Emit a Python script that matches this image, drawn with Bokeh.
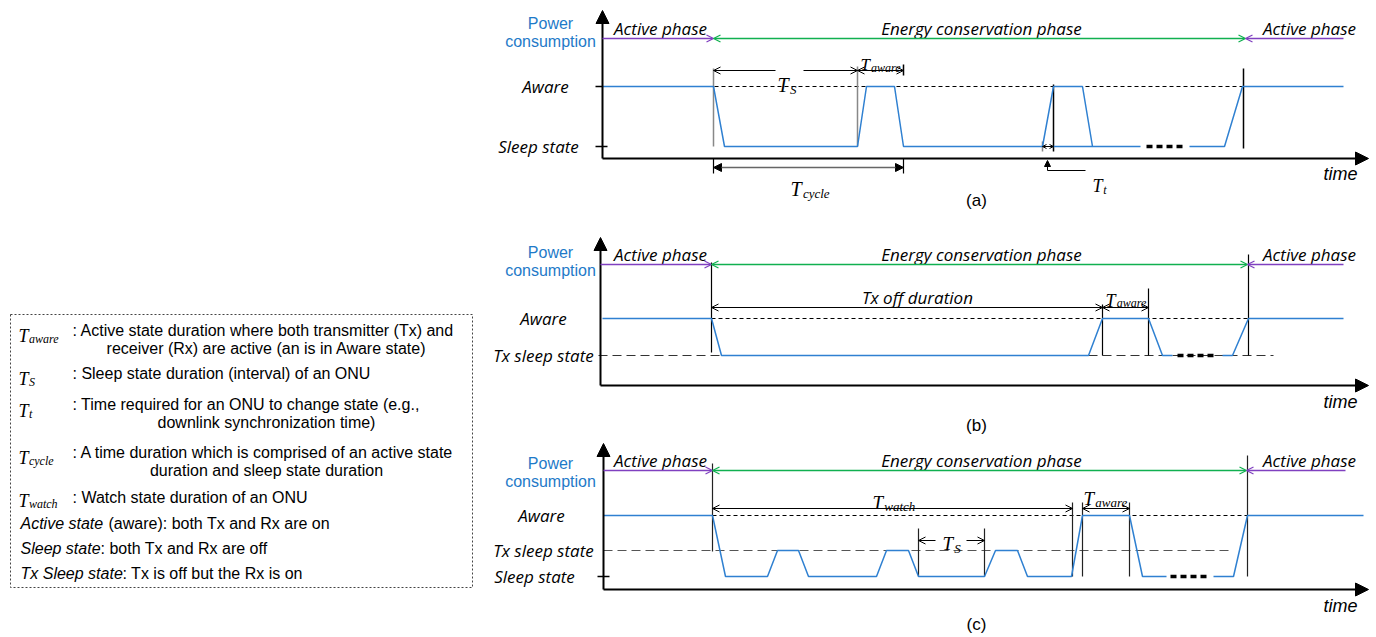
from bokeh.plotting import figure
from bokeh.models import Range1d, Arrow, OpenHead, NormalHead
from bokeh.core.properties import value
from bokeh.embed import file_html
from bokeh.resources import INLINE

# ---------------- DATA ----------------
PHASES = ["Active phase", "Energy conservation phase", "Active phase"]
Y_TITLE = ["Power", "consumption"]
PANEL_TAGS = ["(a)", "(b)", "(c)"]
TIME_LABEL = "time"

# state levels per panel (names)
A_LEVELS = ["Aware", "Sleep state"]
B_LEVELS = ["Aware", "Tx sleep state"]
C_LEVELS = ["Aware", "Tx sleep state", "Sleep state"]

# phase boundaries (time)
A_PHASE_T = [602, 713, 1245, 1343]
B_PHASE_T = [600, 711, 1247, 1343]
C_PHASE_T = [603, 712, 1246, 1345]

# waveforms: time breakpoints and states
A_T1 = [602, 713, 724, 857, 866, 894, 903, 1042, 1053, 1082, 1092, 1140]
A_S1 = ["Aware", "Aware", "Sleep state", "Sleep state", "Aware", "Aware", "Sleep state",
        "Sleep state", "Aware", "Aware", "Sleep state", "Sleep state"]
A_T0 = [1053, 1092]
A_S0 = ["Sleep state", "Sleep state"]
A_T2 = [1189, 1224, 1242, 1343]
A_S2 = ["Sleep state", "Sleep state", "Aware", "Aware"]

B_T1 = [602, 711, 721, 1088, 1102, 1148, 1162, 1172]
B_S1 = ["Aware", "Aware", "Tx sleep state", "Tx sleep state", "Aware", "Aware",
        "Tx sleep state", "Tx sleep state"]
B_T2 = [1222, 1232, 1248, 1343]
B_S2 = ["Tx sleep state", "Tx sleep state", "Aware", "Aware"]

C_T1 = [603, 712, 725, 767, 777, 798, 808, 876, 886, 908, 918, 984, 995, 1017, 1027,
        1071, 1082, 1129, 1142, 1166]
C_S1 = ["Aware", "Aware", "Sleep state", "Sleep state", "Tx sleep state", "Tx sleep state",
        "Sleep state", "Sleep state", "Tx sleep state", "Tx sleep state", "Sleep state",
        "Sleep state", "Tx sleep state", "Tx sleep state", "Sleep state", "Sleep state",
        "Aware", "Aware", "Sleep state", "Sleep state"]
C_T2 = [1213, 1233, 1247, 1363]
C_S2 = ["Sleep state", "Sleep state", "Aware", "Aware"]

# ellipsis (continuation) spans
A_DOTS = [1146, 1183]
B_DOTS = [1177, 1215]
C_DOTS = [1170, 1207]

# legend texts
LEG_SYMS = ["aware", "S", "t", "cycle", "watch"]
LEG_DESC = [": Active state duration where both transmitter (Tx) and",
            ": Sleep state duration (interval) of an ONU",
            ": Time required for an ONU to change state (e.g.,",
            ": A time duration which is comprised of an active state",
            ": Watch state duration of an ONU"]
LEG_CONT = ["receiver (Rx) are active (an is in Aware state)", None,
            "downlink synchronization time)", "duration and sleep state duration", None]
LEG_STATES = [("Active state", "(aware): both Tx and Rx are on"),
              ("Sleep state", ": both Tx and Rx are off"),
              ("Tx Sleep state", ": Tx is off but the Rx is on")]

# ---------------- LAYOUT / STYLE ----------------
BLUE = "#2F80D1"
TBLUE = "#1E7AC8"
PURPLE = "#8040C0"
GREEN = "#10B050"
LBL_FONT = "Open Sans"
SANS = "Liberation Sans"
SERIF = "Liberation Serif"
LBL_SIZE = 17

W, H = 1376, 637
p = figure(width=W, height=H, x_range=Range1d(0, W), y_range=Range1d(H, 0),
           output_backend="svg", toolbar_location=None, min_border=0,
           x_axis_location=None, y_axis_location=None)
p.grid.visible = False
p.outline_line_color = None


def txt(x, y, s, size, font=SANS, style="normal", color="black", align="left", baseline="middle"):
    p.text(x=[x], y=[y], text=[s], text_font=value(font), text_font_size=f"{size}px",
           text_font_style=style, text_color=color, text_align=align, text_baseline=baseline)


def seg(x0, y0, x1, y1, color="black", width=1, dash="solid"):
    p.line([x0, x1], [y0, y1], line_color=color, line_width=width, line_dash=dash)


def arrow(x0, y0, x1, y1, start=False, end=True, size=7, color="black", width=1,
          head_color=None, filled=False):
    hc = head_color or color
    def head():
        if filled:
            return NormalHead(size=size, fill_color=hc, line_color=hc, line_width=1)
        return OpenHead(size=size, line_color=hc, line_width=width)
    p.add_layout(Arrow(x_start=x0, y_start=y0, x_end=x1, y_end=y1,
                       start=head() if start else None, end=head() if end else None,
                       line_color=color, line_width=width))


def tsym(x, base, sub, tsize=19, ssize=12, dx=0.58, dy=0.22):
    txt(x, base, "T", tsize, font=SERIF, style="italic", baseline="alphabetic")
    txt(x + tsize * dx, base + tsize * dy, sub, ssize, font=SERIF, style="italic",
        baseline="alphabetic")


def wave(ts, ss, lv):
    p.line(ts, [lv[s] for s in ss], line_color=BLUE, line_width=1.5)


def panel(tag, ax_x, ax_y, top_y, phase_t, phase_y, phase_lbl_y, title_y, levels, level_y,
          level_lbl_x, time_y, tag_y):
    # axes
    arrow(ax_x, ax_y, ax_x, top_y, size=13, width=2, filled=True)
    arrow(ax_x, ax_y, 1368, ax_y, size=13, width=2, filled=True)
    # title
    txt(550, title_y, Y_TITLE[0], 16, color=TBLUE, align="center")
    txt(550, title_y + 18, Y_TITLE[1], 16, color=TBLUE, align="center")
    # phases
    arrow(phase_t[0], phase_y, phase_t[1], phase_y, color=PURPLE, size=7, width=1.3)
    arrow(phase_t[1], phase_y, phase_t[2], phase_y, start=True, color=GREEN, size=7, width=1.3)
    arrow(phase_t[2], phase_y, phase_t[3], phase_y, start=True, end=False, color=PURPLE,
          size=7, width=1.3)
    txt(660, phase_lbl_y, PHASES[0], LBL_SIZE, font=LBL_FONT, style="italic", align="center")
    txt(981, phase_lbl_y, PHASES[1], LBL_SIZE, font=LBL_FONT, style="italic", align="center")
    txt(1309, phase_lbl_y, PHASES[2], LBL_SIZE, font=LBL_FONT, style="italic", align="center")
    # levels
    for name, lx in zip(levels, level_lbl_x):
        txt(lx, level_y[name], name, LBL_SIZE, font=LBL_FONT, style="italic", align="center")
    txt(1340, time_y, TIME_LABEL, 18, style="italic", align="center")
    txt(976, tag_y, PANEL_TAGS["abc".index(tag)], 17, align="center")


# ---------- panel (a) ----------
LV_A = {"Aware": 86, "Sleep state": 146}
seg(A_PHASE_T[0], LV_A["Aware"], 1242, LV_A["Aware"], dash="4 3")
panel("a", 602, 158, 10, A_PHASE_T, 38, 28, 23, A_LEVELS, LV_A, [545, 538], 173, 200)
seg(595, LV_A["Aware"], 602, LV_A["Aware"], width=1.5)
seg(595, LV_A["Sleep state"], 607, LV_A["Sleep state"], width=1.5)
for x, y0, y1, c in [(713, 68, 146, "#888888"), (857, 66, 146, "#888888"),
                     (903, 64, 75, "black"), (1042, 141, 151, "#888888"),
                     (1053, 84, 151, "black"), (1243, 68, 148, "black")]:
    seg(x, y0, x, y1, color=c, width=1.5)
wave(A_T1, A_S1, LV_A)
wave(A_T0, A_S0, LV_A)
wave(A_T2, A_S2, LV_A)
seg(A_DOTS[0], LV_A["Sleep state"], A_DOTS[1], LV_A["Sleep state"], width=3.5, dash="6 4")
# T_S and T_aware
arrow(775, 70, 713, 70, size=7)
arrow(803, 70, 857, 70, size=7)
arrow(857, 70, 903, 70, start=True, size=7)
tsym(777, 84, "S", 20, 13, dx=0.62, dy=0.25)
tsym(860, 64, "aware", 17, 12, dx=0.62, dy=0.18)
# T_cycle
seg(713, 158, 713, 173, width=1.2)
seg(903, 158, 903, 173, width=1.2)
arrow(713, 167, 903, 167, start=True, size=8, color="#666666", width=1.5,
      head_color="black", filled=True)
tsym(790, 188, "cycle", 20, 13, dx=0.62, dy=0.25)
# T_t
arrow(1042, 146, 1053, 146, start=True, size=4)
arrow(1047, 170, 1047, 160, size=6, filled=True)
seg(1047, 170, 1085, 170)
tsym(1092, 185, "t", 18, 12, dx=0.6, dy=0.25)

# ---------- panel (b) ----------
LV_B = {"Aware": 318, "Tx sleep state": 355}
seg(711, LV_B["Aware"], 1248, LV_B["Aware"], dash="4 3")
seg(598, LV_B["Tx sleep state"], 1273, LV_B["Tx sleep state"], color="#333333",
    width=1.2, dash="9 5")
panel("b", 600, 385, 237, B_PHASE_T, 264, 254, 252, B_LEVELS, LV_B, [543, 543], 401, 425)
for x, y0, y1 in [(711, 262, 352), (1102, 304, 355), (1148, 288, 355), (1248, 254, 355)]:
    seg(x, y0, x, y1, width=1.2)
wave(B_T1, B_S1, LV_B)
wave(B_T2, B_S2, LV_B)
seg(B_DOTS[0], LV_B["Tx sleep state"], B_DOTS[1], LV_B["Tx sleep state"], width=3.5, dash="6 4")
arrow(711, 307, 1102, 307, start=True, size=7)
arrow(1102, 307, 1148, 307, start=True, size=7)
txt(917, 297, "Tx off duration", LBL_SIZE, font=LBL_FONT, style="italic", align="center")
tsym(1105, 300, "aware", 18, 12, dx=0.62, dy=0.12)

# ---------- panel (c) ----------
LV_C = {"Aware": 515, "Tx sleep state": 550, "Sleep state": 576}
seg(712, LV_C["Aware"], 1247, LV_C["Aware"], dash="4 3")
seg(603, LV_C["Tx sleep state"], 1233, LV_C["Tx sleep state"], color="#555555",
    width=1.2, dash="9 5")
panel("c", 603, 589, 443, C_PHASE_T, 470, 460, 463, C_LEVELS, LV_C, [541, 543, 534], 605, 624)
seg(597, LV_C["Sleep state"], 609, LV_C["Sleep state"], width=1.5)
for x, y0, y1 in [(712, 463, 551), (918, 528, 576), (984, 528, 576), (1072, 502, 576),
                  (1082, 502, 576), (1129, 502, 576), (1247, 455, 576)]:
    seg(x, y0, x, y1, width=1.2, color="#222222")
wave(C_T1, C_S1, LV_C)
wave(C_T2, C_S2, LV_C)
seg(C_DOTS[0], LV_C["Sleep state"], C_DOTS[1], LV_C["Sleep state"], width=3.5, dash="6 4")
arrow(712, 508, 1072, 508, start=True, size=7)
arrow(1082, 508, 1129, 508, start=True, size=7)
tsym(872, 502, "watch", 19, 13, dx=0.62, dy=0.2)
tsym(1083, 498, "aware", 19, 13, dx=0.62, dy=0.2)
arrow(935, 540, 918, 540, size=7)
arrow(966, 540, 984, 540, size=7)
tsym(942, 543, "S", 19, 13, dx=0.62, dy=0.25)

# ---------- legend box ----------
p.quad(left=[10], right=[472], top=[314], bottom=[587], fill_color=None,
       line_color="#444444", line_dash="2 2", line_width=1)
leg_y = [330, 373, 404, 452, 497]
leg_base = [335, 378, 410, 457, 500]
for sym, d, c, y, b in zip(LEG_SYMS, LEG_DESC, LEG_CONT, leg_y, leg_base):
    tsym(18, b, sym, 18, 12, dx=0.58, dy=0.22)
    txt(72, y, d, 16)
    if c:
        txt(266, y + 18, c, 16, align="center")
state_y = [523, 548, 573]
state_x = [108, 100, 122]
for (it, rest), y, x in zip(LEG_STATES, state_y, state_x):
    txt(20, y, it, 16, style="italic")
    txt(x, y, rest, 16)

open("out.html", "w").write(file_html(p, INLINE))
